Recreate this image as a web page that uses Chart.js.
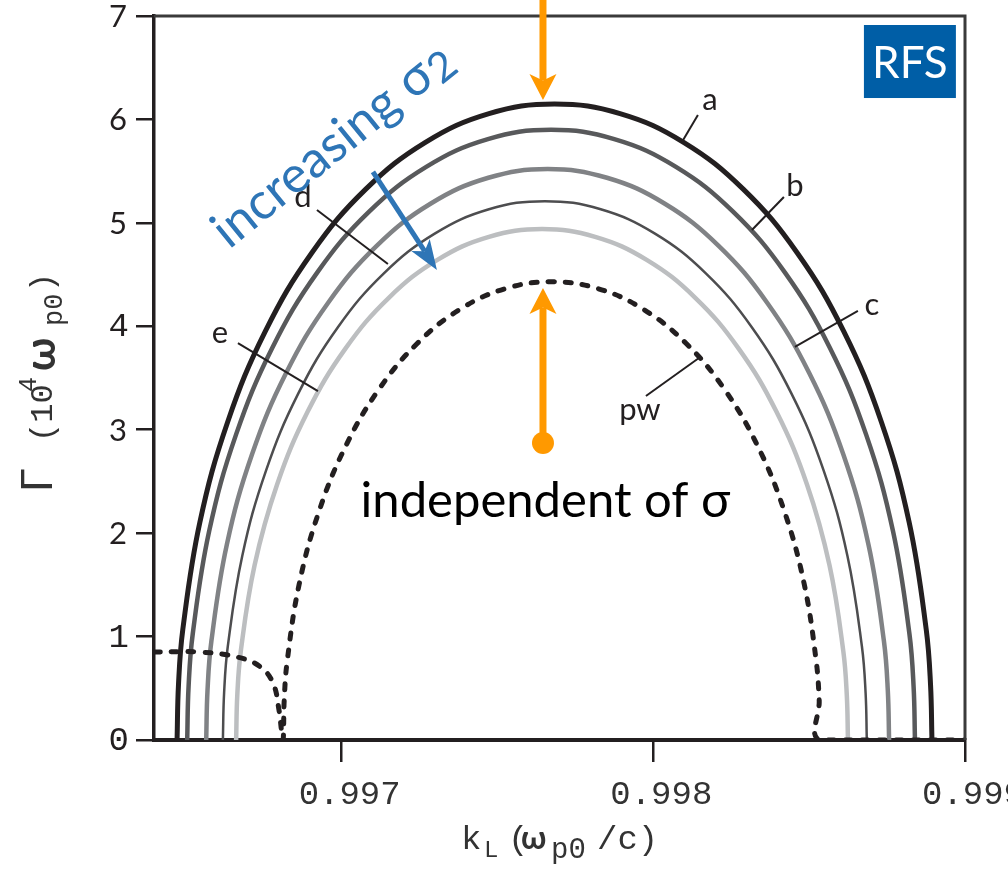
<!DOCTYPE html>
<html>
<head>
<meta charset="utf-8">
<script src="https://cdn.jsdelivr.net/npm/chart.js@4.4.0/dist/chart.umd.min.js"></script>
<style>
  html, body { margin: 0; padding: 0; background: #fff; }
  #wrap { width: 1008px; height: 869px; }
</style>
</head>
<body>
<div id="wrap"><canvas id="chart" width="1008" height="869"></canvas></div>
<script>
// growth rate curves (k_L in w_p0/c, Gamma in 1e-4 w_p0)
const kA = [0.996472, 0.9964766, 0.9964904, 0.996545, 0.9966343, 0.9967554, 0.9969046, 0.9970775, 0.9972688, 0.9974728, 0.997683, 0.9978932, 0.9980972, 0.9982885, 0.9984614, 0.9986106, 0.9987317, 0.998821, 0.9988756, 0.9988894, 0.998894];
const gA = [0, 0.536, 1.068, 2.103, 3.075, 3.953, 4.711, 5.326, 5.779, 6.057, 6.15, 6.057, 5.779, 5.326, 4.711, 3.953, 3.075, 2.103, 1.068, 0.536, 0];

const kB = [0.9965045, 0.9965089, 0.9965222, 0.9965749, 0.9966609, 0.9967777, 0.9969215, 0.9970882, 0.9972727, 0.9974693, 0.997672, 0.9978747, 0.9980713, 0.9982558, 0.9984225, 0.9985663, 0.9986831, 0.9987691, 0.9988218, 0.9988351, 0.9988395];
const gB = [0, 0.514, 1.024, 2.018, 2.95, 3.793, 4.519, 5.109, 5.544, 5.81, 5.9, 5.81, 5.544, 5.109, 4.519, 3.793, 2.95, 2.018, 1.024, 0.514, 0];

const kC = [0.9965655, 0.9965697, 0.9965822, 0.9966316, 0.9967123, 0.9968218, 0.9969568, 0.9971132, 0.9972863, 0.9974708, 0.997661, 0.9978512, 0.9980357, 0.9982088, 0.9983652, 0.9985002, 0.9986097, 0.9986904, 0.9987398, 0.9987523, 0.9987565];
const gC = [0, 0.481, 0.958, 1.888, 2.76, 3.548, 4.228, 4.78, 5.187, 5.436, 5.52, 5.436, 5.187, 4.78, 4.228, 3.548, 2.76, 1.888, 0.958, 0.481, 0];

const kD = [0.996619, 0.9966229, 0.9966347, 0.9966813, 0.9967574, 0.9968607, 0.996988, 0.9971355, 0.9972987, 0.9974727, 0.997652, 0.9978313, 0.9980053, 0.9981685, 0.998316, 0.9984433, 0.9985466, 0.9986227, 0.9986693, 0.9986811, 0.998685];
const gD = [0, 0.454, 0.904, 1.782, 2.605, 3.349, 3.991, 4.512, 4.896, 5.131, 5.21, 5.131, 4.896, 4.512, 3.991, 3.349, 2.605, 1.782, 0.904, 0.454, 0];

const kE = [0.9966615, 0.9966652, 0.9966764, 0.9967207, 0.996793, 0.9968912, 0.9970121, 0.9971522, 0.9973073, 0.9974726, 0.997643, 0.9978134, 0.9979787, 0.9981338, 0.9982739, 0.9983948, 0.998493, 0.9985653, 0.9986096, 0.9986208, 0.9986245];
const gE = [0, 0.431, 0.858, 1.689, 2.47, 3.175, 3.784, 4.278, 4.642, 4.865, 4.94, 4.865, 4.642, 4.278, 3.784, 3.175, 2.47, 1.689, 0.858, 0.431, 0];

// plane wave (dashed), low branch on the left then the main arc
const kPw = [0.996398, 0.996545, 0.996667, 0.996738, 0.99678, 0.996799, 0.996808, 0.9968125, 0.9968158, 0.9968256, 0.9968644, 0.9969279, 0.9970141, 0.9971202, 0.9972432, 0.9973794, 0.9975244, 0.997674, 0.9978236, 0.9979686, 0.9981048, 0.9982278, 0.9983339, 0.9984201, 0.9984836, 0.9985224, 0.9985322, 0.9985355, 0.999];
const gPw = [0.85, 0.85, 0.8, 0.71, 0.55, 0.29, 0.07, 0, 0.386, 0.769, 1.515, 2.215, 2.848, 3.393, 3.836, 4.163, 4.363, 4.43, 4.363, 4.163, 3.836, 3.393, 2.848, 2.215, 1.515, 0.769, 0.386, 0, 0];

const xTicks = [0.997, 0.998, 0.999];
const xTickLabels = ['0.997', '0.998', '0.999'];
const yTicks = [0, 1, 2, 3, 4, 5, 6, 7];
const xMin = 0.996398, xMax = 0.999;

// styles
const curves = [
  { label: 'pw', k: kPw, g: gPw, color: '#231f20', width: 5, dash: [6, 11] },
  { label: 'e', k: kE, g: gE, color: '#bcbec0', width: 4.5, dash: [] },
  { label: 'd', k: kD, g: gD, color: '#4d4d4f', width: 2.5, dash: [] },
  { label: 'c', k: kC, g: gC, color: '#808285', width: 4.5, dash: [] },
  { label: 'b', k: kB, g: gB, color: '#58595b', width: 4.5, dash: [] },
  { label: 'a', k: kA, g: gA, color: '#231f20', width: 5, dash: [] }
];

// curve labels with leader lines (data coords)
const curveLabels = [
  { t: 'a', k: 0.9981816, g: 6.188, lk: [0.9981431, 0.9980918], lg: [6.043, 5.782] },
  { t: 'b', k: 0.9984543, g: 5.356, lk: [0.998419, 0.9983163], lg: [5.25, 4.931] },
  { t: 'c', k: 0.9987013, g: 4.206, lk: [0.9986564, 0.9984543], lg: [4.148, 3.80] },
  { t: 'd', k: 0.9968758, g: 5.25, lk: [0.9969208, 0.9971485], lg: [5.124, 4.602] },
  { t: 'e', k: 0.9966096, g: 3.935, lk: [0.9966673, 0.996924], lg: [3.838, 3.374] },
  { t: 'pw', k: 0.997957, g: 3.191, lk: [0.9979763, 0.9981463], lg: [3.326, 3.693] }
];

const datasets = curves.map(c => ({
  label: c.label,
  data: c.k.map((k, i) => ({ x: k, y: c.g[i] })),
  borderColor: c.color,
  borderWidth: c.width,
  borderDash: c.dash,
  borderCapStyle: c.dash.length ? 'round' : 'butt',
  pointRadius: 0,
  tension: 0.4,
  fill: false
}));

function drawArrow(ctx, x0, y0, x1, y1, color, shaftW, headLen, headW) {
  const ang = Math.atan2(y1 - y0, x1 - x0);
  const ux = Math.cos(ang), uy = Math.sin(ang);
  const nx = -uy, ny = ux;
  const bx = x1 - ux * headLen, by = y1 - uy * headLen;
  const mx = x1 - ux * headLen * 0.75, my = y1 - uy * headLen * 0.75;
  ctx.strokeStyle = color;
  ctx.lineWidth = shaftW;
  ctx.lineCap = 'butt';
  ctx.beginPath();
  ctx.moveTo(x0, y0);
  ctx.lineTo(mx, my);
  ctx.stroke();
  ctx.fillStyle = color;
  ctx.beginPath();
  ctx.moveTo(x1, y1);
  ctx.lineTo(bx + nx * headW / 2, by + ny * headW / 2);
  ctx.lineTo(mx, my);
  ctx.lineTo(bx - nx * headW / 2, by - ny * headW / 2);
  ctx.closePath();
  ctx.fill();
}

const annotations = {
  id: 'annotations',
  afterDraw(chart) {
    const ctx = chart.ctx;
    const xs = chart.scales.x, ys = chart.scales.y;
    const area = chart.chartArea;
    const px = v => xs.getPixelForValue(v);
    const py = v => ys.getPixelForValue(v);
    ctx.save();

    // top and right frame
    ctx.strokeStyle = '#3a3a3a';
    ctx.lineWidth = 3;
    ctx.beginPath();
    ctx.moveTo(area.left, area.top);
    ctx.lineTo(area.right, area.top);
    ctx.lineTo(area.right, area.bottom);
    ctx.stroke();

    // y tick labels
    ctx.fillStyle = '#231f20';
    ctx.textAlign = 'right';
    ctx.textBaseline = 'middle';
    yTicks.forEach(v => {
      const mono = v === 0 || v === 1 || v === 4;
      ctx.font = mono ? '34px "Liberation Mono"' : '31px Lato';
      ctx.fillText(String(v), mono ? 129 : 127, py(v) + 1);
    });

    // x tick labels (last one runs off the canvas like the original)
    ctx.fillStyle = '#333';
    ctx.textAlign = 'center';
    ctx.font = '34px "Liberation Mono"';
    xTicks.forEach((v, i) => ctx.fillText(xTickLabels[i], px(v) + 8, 795));

    // x title: k_L (w_p0/c)
    ctx.textAlign = 'left';
    ctx.textBaseline = 'alphabetic';
    const xt = [
      { t: 'k', f: '34px "Liberation Mono"', x: 461, dy: 0 },
      { t: 'L', f: '24px "Liberation Mono"', x: 484, dy: 8 },
      { t: '(', f: '34px "Liberation Mono"', x: 508, dy: 0 },
      { t: 'ω', f: 'bold 32px Lato', x: 521, dy: 0 },
      { t: 'p0', f: '29px "Liberation Mono"', x: 551, dy: 9 },
      { t: '/c)', f: '34px "Liberation Mono"', x: 597, dy: 0 }
    ];
    xt.forEach(s => { ctx.font = s.f; ctx.fillText(s.t, s.x, 849 + s.dy); });

    // y title: Gamma (10^4 w_p0), rotated
    ctx.save();
    ctx.translate(52, 492);
    ctx.rotate(-Math.PI / 2);
    const yt = [
      { t: 'Γ', f: '42px Lato', x: 0, dy: 0 },
      { t: '(10', f: '32px "Liberation Mono"', x: 50, dy: 0 },
      { t: '4', f: '25px "Liberation Mono"', x: 100, dy: -16 },
      { t: 'ω', f: 'bold 42px Lato', x: 121, dy: 3 },
      { t: 'p0', f: '27px "Liberation Mono"', x: 166, dy: 10 },
      { t: ')', f: '32px "Liberation Mono"', x: 200, dy: 0 }
    ];
    yt.forEach(s => { ctx.font = s.f; ctx.fillText(s.t, s.x, s.dy); });
    ctx.restore();

    // curve labels and leaders
    ctx.fillStyle = '#231f20';
    ctx.strokeStyle = '#231f20';
    ctx.lineWidth = 2;
    ctx.font = '31px Lato';
    ctx.textAlign = 'center';
    ctx.textBaseline = 'middle';
    curveLabels.forEach(l => {
      ctx.fillText(l.t, px(l.k), py(l.g));
      ctx.beginPath();
      ctx.moveTo(px(l.lk[0]), py(l.lg[0]));
      ctx.lineTo(px(l.lk[1]), py(l.lg[1]));
      ctx.stroke();
    });

    // orange arrows at the peak position
    const kPeak = 0.997646;
    drawArrow(ctx, px(kPeak), 0, px(kPeak), py(6.188), '#ff9900', 7, 26, 27);
    drawArrow(ctx, px(kPeak), py(2.872), px(kPeak), py(4.37), '#ff9900', 7, 26, 27);
    ctx.fillStyle = '#ff9900';
    ctx.beginPath();
    ctx.arc(px(kPeak), py(2.872), 11, 0, Math.PI * 2);
    ctx.fill();

    // blue arrow + rotated text
    drawArrow(ctx, px(0.9971004), py(5.492), px(0.9973057), py(4.544), '#2e75b6', 5, 30, 22);
    ctx.save();
    ctx.translate(px(0.9966385), py(4.738));
    ctx.rotate(-39 * Math.PI / 180);
    ctx.fillStyle = '#2e75b6';
    ctx.textAlign = 'left';
    ctx.textBaseline = 'alphabetic';
    ctx.font = '51px Lato';
    const w1 = ctx.measureText('increasing σ').width;
    ctx.fillText('increasing σ', 0, 0);
    ctx.font = '42px Lato';
    ctx.fillText('2', w1 + 1, 6);
    ctx.restore();

    // central text
    ctx.fillStyle = '#000';
    ctx.font = '49px Lato';
    ctx.textAlign = 'center';
    ctx.textBaseline = 'alphabetic';
    ctx.fillText('independent of σ', px(0.9976538), py(2.156));

    // RFS badge
    const bx0 = px(0.9986757), bx1 = px(0.9989708), by0 = py(6.913), by1 = py(6.207);
    ctx.fillStyle = '#005ea6';
    ctx.fillRect(bx0, by0, bx1 - bx0, by1 - by0);
    ctx.fillStyle = '#fff';
    ctx.font = '44px Lato';
    ctx.textBaseline = 'middle';
    ctx.fillText('RFS', (bx0 + bx1) / 2, (by0 + by1) / 2 + 2);

    ctx.restore();
  }
};

new Chart(document.getElementById('chart'), {
  type: 'line',
  data: { datasets: datasets },
  options: {
    responsive: false,
    devicePixelRatio: 1,
    animation: false,
    events: [],
    layout: { padding: { top: 16, right: 43, left: 0, bottom: 0 } },
    plugins: { legend: { display: false }, tooltip: { enabled: false } },
    scales: {
      x: {
        type: 'linear',
        min: xMin,
        max: xMax,
        afterBuildTicks: s => { s.ticks = xTicks.map(v => ({ value: v })); },
        afterFit: s => { s.height = 129; },
        ticks: { display: false },
        grid: { drawOnChartArea: false, drawTicks: true, tickLength: 22, color: '#231f20', lineWidth: 2.5 },
        border: { display: true, color: '#231f20', width: 4 }
      },
      y: {
        min: 0,
        max: 7,
        ticks: { display: false, stepSize: 1 },
        afterFit: s => { s.width = 154; },
        grid: { drawOnChartArea: false, drawTicks: true, tickLength: 18, color: '#231f20', lineWidth: 2.5 },
        border: { display: true, color: '#231f20', width: 3.5 }
      }
    }
  },
  plugins: [annotations]
});
</script>
</body>
</html>
